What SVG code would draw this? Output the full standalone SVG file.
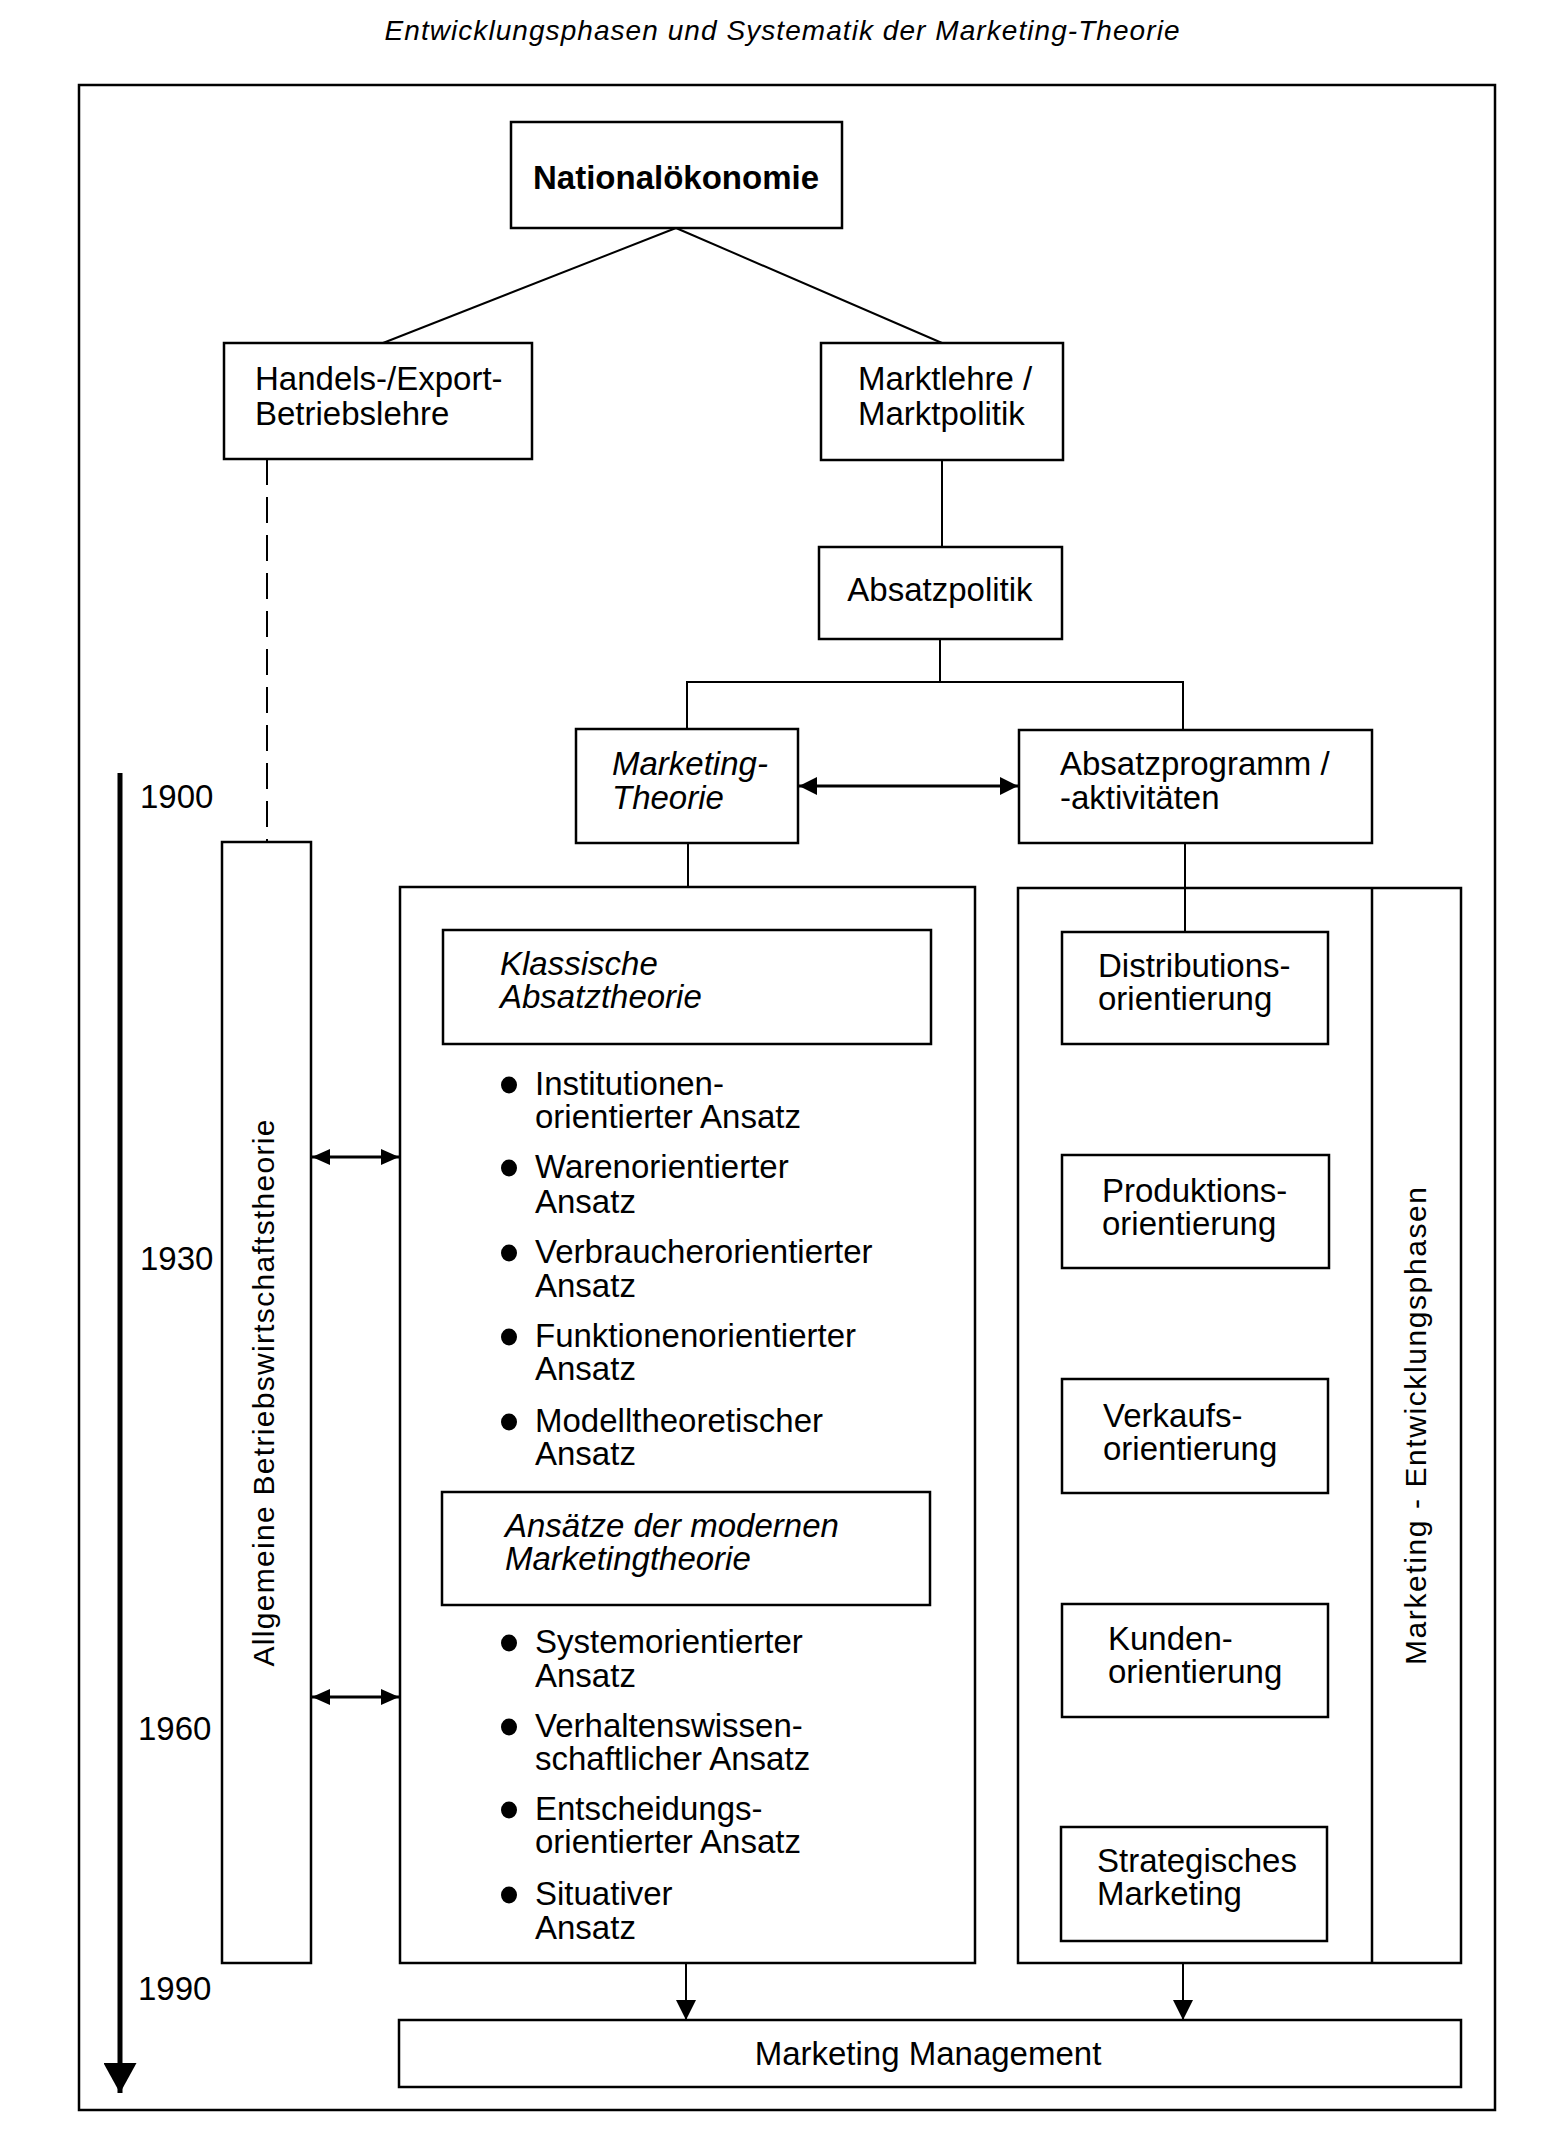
<svg xmlns="http://www.w3.org/2000/svg" width="1568" height="2155" viewBox="0 0 1568 2155">
<style>
  .box{fill:#fff;stroke:#000;stroke-width:2.5}
  .frame{fill:none;stroke:#000;stroke-width:2.5}
  .ln{fill:none;stroke:#000;stroke-width:2}
  .dbl{fill:none;stroke:#000;stroke-width:3}
  text{font-family:"Liberation Sans",Arial,sans-serif;font-size:33px;fill:#000}
  .it{font-style:italic}
  .bold{font-weight:bold}
  .dot{fill:#000}
</style>
<defs>
  <marker id="ah" markerUnits="userSpaceOnUse" viewBox="0 0 18 18" refX="18" refY="9" markerWidth="18" markerHeight="18" orient="auto-start-reverse">
    <path d="M0,0 L18,9 L0,18 z" fill="#000"/>
  </marker>
  <marker id="ahs" markerUnits="userSpaceOnUse" viewBox="0 0 18 16" refX="18" refY="8" markerWidth="18" markerHeight="16" orient="auto-start-reverse">
    <path d="M0,0 L18,8 L0,16 z" fill="#000"/>
  </marker>
  <marker id="ahd" markerUnits="userSpaceOnUse" viewBox="0 0 20 20" refX="20" refY="10" markerWidth="20" markerHeight="20" orient="auto">
    <path d="M0,0 L20,10 L0,20 z" fill="#000"/>
  </marker>
  <marker id="aht" markerUnits="userSpaceOnUse" viewBox="0 0 30 33" refX="30" refY="16.5" markerWidth="30" markerHeight="33" orient="auto">
    <path d="M0,0 L30,16.5 L0,33 z" fill="#000"/>
  </marker>
</defs>
<rect width="1568" height="2155" fill="#fff"/>
<text x="782" y="40" class="it" text-anchor="middle" style="font-size:28px" textLength="795">Entwicklungsphasen und Systematik der Marketing-Theorie</text>
<rect class="frame" x="79" y="85" width="1416" height="2025"/>

<g id="connectors">
  <line class="ln" x1="676" y1="228" x2="383" y2="343"/>
  <line class="ln" x1="676" y1="228" x2="942" y2="343"/>
  <line class="ln" x1="267" y1="459" x2="267" y2="842" stroke-dasharray="26 12"/>
  <line class="ln" x1="942" y1="460" x2="942" y2="547"/>
  <line class="ln" x1="940" y1="639" x2="940" y2="682"/>
  <polyline class="ln" points="687,729 687,682 1183,682 1183,730"/>
  <line class="dbl" x1="799" y1="786" x2="1018" y2="786" marker-start="url(#ah)" marker-end="url(#ah)"/>
  <line class="ln" x1="688" y1="843" x2="688" y2="887"/>
  <line class="ln" x1="1185" y1="843" x2="1185" y2="932"/>
  <line class="ln" x1="1185" y1="1044" x2="1185" y2="1155"/>
  <line class="ln" x1="1185" y1="1268" x2="1185" y2="1379"/>
  <line class="ln" x1="1185" y1="1493" x2="1185" y2="1604"/>
  <line class="ln" x1="1185" y1="1717" x2="1185" y2="1827"/>
  <line class="dbl" x1="312" y1="1157" x2="399" y2="1157" marker-start="url(#ahs)" marker-end="url(#ahs)"/>
  <line class="dbl" x1="312" y1="1697" x2="399" y2="1697" marker-start="url(#ahs)" marker-end="url(#ahs)"/>
  <line class="ln" x1="686" y1="1963" x2="686" y2="2020" marker-end="url(#ahd)"/>
  <line class="ln" x1="1183" y1="1963" x2="1183" y2="2020" marker-end="url(#ahd)"/>
  <line x1="120" y1="773" x2="120" y2="2093" stroke="#000" stroke-width="5" marker-end="url(#aht)"/>
</g>

<g id="timeline-labels">
  <text x="140" y="808">1900</text>
  <text x="140" y="1270">1930</text>
  <text x="138" y="1740">1960</text>
  <text x="138" y="2000">1990</text>
</g>

<g id="nationaloekonomie">
  <rect class="box" x="511" y="122" width="331" height="106"/>
  <text x="676" y="189" class="bold" text-anchor="middle">Nationalökonomie</text>
</g>
<g id="handels">
  <rect class="box" x="224" y="343" width="308" height="116"/>
  <text x="255" y="390">Handels-/Export-</text>
  <text x="255" y="425">Betriebslehre</text>
</g>
<g id="marktlehre">
  <rect class="box" x="821" y="343" width="242" height="117"/>
  <text x="858" y="390">Marktlehre /</text>
  <text x="858" y="425">Marktpolitik</text>
</g>
<g id="absatzpolitik">
  <rect class="box" x="819" y="547" width="243" height="92"/>
  <text x="940" y="601" text-anchor="middle">Absatzpolitik</text>
</g>
<g id="marketing-theorie">
  <rect class="box" x="576" y="729" width="222" height="114"/>
  <text x="612" y="775" class="it">Marketing-</text>
  <text x="612" y="809" class="it">Theorie</text>
</g>
<g id="absatzprogramm">
  <rect class="box" x="1019" y="730" width="353" height="113"/>
  <text x="1060" y="775">Absatzprogramm /</text>
  <text x="1060" y="809">-aktivitäten</text>
</g>
<g id="allgemeine-bwl">
  <rect class="box" x="222" y="842" width="89" height="1121"/>
  <text transform="translate(274,1393) rotate(-90)" text-anchor="middle" style="font-size:30px" textLength="547">Allgemeine Betriebswirtschaftstheorie</text>
</g>
<g id="theorie-bereich">
  <rect class="box" x="400" y="887" width="575" height="1076"/>
</g>
<g id="klassische">
  <rect class="box" x="443" y="930" width="488" height="114"/>
  <text x="500" y="975" class="it">Klassische</text>
  <text x="500" y="1008" class="it">Absatztheorie</text>
</g>
<g id="klassische-ansaetze">
  <ellipse class="dot" cx="509" cy="1085" rx="8" ry="8.5"/>
  <text x="535" y="1095">Institutionen-</text>
  <text x="535" y="1128">orientierter Ansatz</text>
  <ellipse class="dot" cx="509" cy="1168" rx="8" ry="8.5"/>
  <text x="535" y="1178">Warenorientierter</text>
  <text x="535" y="1213">Ansatz</text>
  <ellipse class="dot" cx="509" cy="1253" rx="8" ry="8.5"/>
  <text x="535" y="1263">Verbraucherorientierter</text>
  <text x="535" y="1297">Ansatz</text>
  <ellipse class="dot" cx="509" cy="1337" rx="8" ry="8.5"/>
  <text x="535" y="1347">Funktionenorientierter</text>
  <text x="535" y="1380">Ansatz</text>
  <ellipse class="dot" cx="509" cy="1422" rx="8" ry="8.5"/>
  <text x="535" y="1432">Modelltheoretischer</text>
  <text x="535" y="1465">Ansatz</text>
</g>
<g id="moderne">
  <rect class="box" x="442" y="1492" width="488" height="113"/>
  <text x="505" y="1537" class="it">Ansätze der modernen</text>
  <text x="505" y="1570" class="it">Marketingtheorie</text>
</g>
<g id="moderne-ansaetze">
  <ellipse class="dot" cx="509" cy="1643" rx="8" ry="8.5"/>
  <text x="535" y="1653">Systemorientierter</text>
  <text x="535" y="1687">Ansatz</text>
  <ellipse class="dot" cx="509" cy="1727" rx="8" ry="8.5"/>
  <text x="535" y="1737">Verhaltenswissen-</text>
  <text x="535" y="1770">schaftlicher Ansatz</text>
  <ellipse class="dot" cx="509" cy="1810" rx="8" ry="8.5"/>
  <text x="535" y="1820">Entscheidungs-</text>
  <text x="535" y="1853">orientierter Ansatz</text>
  <ellipse class="dot" cx="509" cy="1895" rx="8" ry="8.5"/>
  <text x="535" y="1905">Situativer</text>
  <text x="535" y="1939">Ansatz</text>
</g>
<g id="entwicklungsphasen">
  <rect class="box" x="1018" y="888" width="443" height="1075"/>
  <line class="ln" x1="1372" y1="888" x2="1372" y2="1963" style="stroke-width:2.5"/>
  <line class="ln" x1="1185" y1="888" x2="1185" y2="932"/>
  <text transform="translate(1426,1426) rotate(-90)" text-anchor="middle" style="font-size:30px" textLength="478">Marketing - Entwicklungsphasen</text>
</g>
<g id="distributions">
  <rect class="box" x="1062" y="932" width="266" height="112"/>
  <text x="1098" y="977">Distributions-</text>
  <text x="1098" y="1010">orientierung</text>
</g>
<g id="produktions">
  <rect class="box" x="1062" y="1155" width="267" height="113"/>
  <text x="1102" y="1202">Produktions-</text>
  <text x="1102" y="1235">orientierung</text>
</g>
<g id="verkaufs">
  <rect class="box" x="1062" y="1379" width="266" height="114"/>
  <text x="1103" y="1427">Verkaufs-</text>
  <text x="1103" y="1460">orientierung</text>
</g>
<g id="kunden">
  <rect class="box" x="1062" y="1604" width="266" height="113"/>
  <text x="1108" y="1650">Kunden-</text>
  <text x="1108" y="1683">orientierung</text>
</g>
<g id="strategisches">
  <rect class="box" x="1061" y="1827" width="266" height="114"/>
  <text x="1097" y="1872">Strategisches</text>
  <text x="1097" y="1905">Marketing</text>
</g>
<g id="marketing-management">
  <rect class="box" x="399" y="2020" width="1062" height="67"/>
  <text x="928" y="2065" text-anchor="middle">Marketing Management</text>
</g>
</svg>
